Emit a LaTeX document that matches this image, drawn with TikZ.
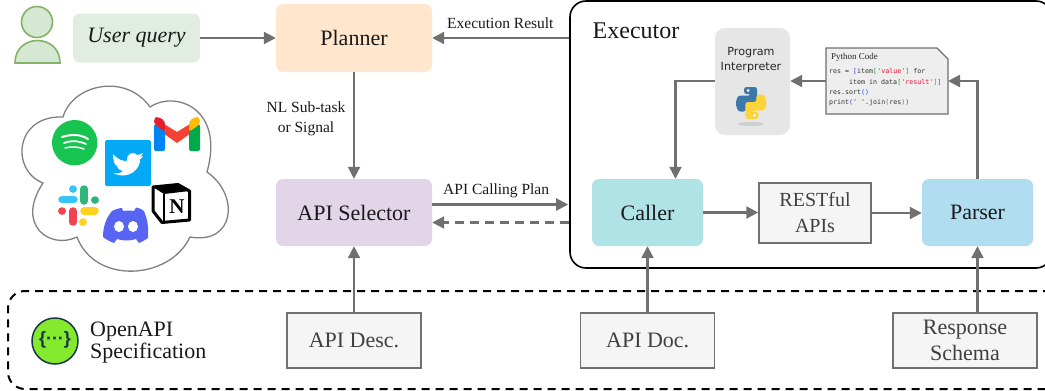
\documentclass[tikz,border=0pt]{standalone}
\usepackage{fontspec}
\setmainfont{Liberation Serif}
\newfontfamily\djsans{DejaVu Sans}
\newfontfamily\djmono{DejaVu Sans Mono}
\newfontfamily\lsans{Liberation Sans}
\usetikzlibrary{arrows.meta,shapes.geometric,calc}
\definecolor{linegray}{HTML}{707070}
\definecolor{kwblue}{HTML}{3344FF}
\definecolor{kwgreen}{HTML}{22AA22}
\definecolor{kwred}{HTML}{EE1133}
\definecolor{userf}{HTML}{D5E8D4}
\definecolor{userg}{HTML}{82B366}
\definecolor{queryf}{HTML}{E1EDE0}
\definecolor{plannerf}{HTML}{FFE6CC}
\definecolor{selectorf}{HTML}{E1D5E7}
\definecolor{callerf}{HTML}{B0E3E6}
\definecolor{parserf}{HTML}{B1DDF0}
\definecolor{interpf}{HTML}{E6E6E6}
\definecolor{codef}{HTML}{EEEEEE}
\definecolor{pyblue}{HTML}{3C78AA}
\definecolor{pyyellow}{HTML}{FFD43B}
\definecolor{spotify}{HTML}{16C44F}
\definecolor{twitter}{HTML}{03A9F4}
\definecolor{gred}{HTML}{F44336}
\definecolor{gdred}{HTML}{E5202E}
\definecolor{gblue}{HTML}{0085F7}
\definecolor{ggreen}{HTML}{00A94B}
\definecolor{gyellow}{HTML}{FFBC00}
\definecolor{slblue}{HTML}{36C5F8}
\definecolor{slgreen}{HTML}{2EB67D}
\definecolor{slred}{HTML}{F44250}
\definecolor{slyellow}{HTML}{FFD21F}
\definecolor{discord}{HTML}{5865F2}
\definecolor{swagf}{HTML}{85EA2D}
\definecolor{swags}{HTML}{173647}
\newcommand{\fs}[1]{\fontsize{#1}{#1}\selectfont}
\newcommand{\kb}[1]{\textcolor{kwblue}{#1}}
\newcommand{\kg}[1]{\textcolor{kwgreen}{#1}}
\newcommand{\kr}[1]{\textcolor{kwred}{#1}}
\tikzset{
  flowbox/.style={rounded corners=7pt,inner sep=0pt,align=center,text=black!90,font=\fs{22}},
  greybox/.style={draw=linegray,line width=1.5pt,fill=black!4,inner sep=0pt,align=center,font=\fs{22},text=black!75},
  flow/.style={draw=linegray,line width=2.2pt,-{Triangle[length=12pt,width=12pt]}},
  smalllabel/.style={font=\fs{15.5},text=black!90,inner sep=0pt,align=center},
  codeline/.style={font=\djmono\fs{6.65},text=black!80,inner sep=0pt,anchor=west},
  pill/.style={line width=7.5pt,line cap=round}
}
\begin{document}
\begin{tikzpicture}[x=1pt,y=-1pt]
\useasboundingbox (0,0) rectangle (1045,391);
\clip (0,0) rectangle (1045,391);
% dashed frame
\node[draw=black,line width=2pt,dash pattern=on 8pt off 6pt,rounded corners=17pt,minimum width=1060pt,minimum height=98pt,inner sep=0pt] (openapi) at (538,340) {};
% executor
\node[draw=black,line width=1.6pt,fill=white,rounded corners=16pt,minimum width=482pt,minimum height=267pt,inner sep=0pt] (executor) at (811,134.5) {};
\node[font=\fs{24},inner sep=0pt,text=black!90] (exlabel) at (636,31) {Executor};
% person
\draw[userg,line width=1.6pt,fill=userf] (37,22) circle[radius=15.5pt];
\draw[userg,line width=1.6pt,fill=userf] (15,63) .. controls (15,33) and (60,33) .. (60,63) -- cycle;
% boxes
\node[flowbox,fill=queryf,minimum width=127pt,minimum height=49pt,font=\itshape\fs{22}] (query) at (136.5,38) {User query};
\node[flowbox,fill=plannerf,minimum width=156pt,minimum height=68pt] (planner) at (354,38) {Planner};
\node[flowbox,fill=selectorf,minimum width=156pt,minimum height=67pt] (selector) at (354,212.5) {API Selector};
\node[flowbox,fill=callerf,minimum width=111pt,minimum height=67pt] (caller) at (647.5,212.5) {Caller};
\node[flowbox,fill=parserf,minimum width=111pt,minimum height=67pt] (parser) at (977.5,212.5) {Parser};
\node[greybox,minimum width=112pt,minimum height=60pt,font=\fs{20}] (rest) at (815,213) {RESTful\\[6pt]APIs};
\node[greybox,minimum width=134pt,minimum height=55pt] (desc) at (354,340.5) {API Desc.};
\node[greybox,minimum width=134pt,minimum height=55pt] (doc) at (647.7,340.5) {API Doc.};
\node[greybox,minimum width=144pt,minimum height=55pt] (schema) at (965,340.5) {Response\\[4pt]Schema};
% interpreter
\node[fill=interpf,rounded corners=10pt,minimum width=75pt,minimum height=107pt,inner sep=0pt] (interp) at (752.5,81.5) {};
\node[font=\djsans\fs{11.2},text=black!85,align=center,inner sep=0pt] (interplabel) at (751,60) {Program\\[3pt]Interpreter};
% python logo
\fill[black!25,opacity=.6] (751,124) ellipse[x radius=13pt,y radius=2pt];
\fill[pyblue,rounded corners=2.5pt] (744,87) -- (757,87) -- (757,104) -- (746,104) -- (746,111.5) -- (738,111.5) -- (735.5,103) -- (738,95.5) -- (751,95.5) -- (751,94) -- (744,94) -- cycle;
\begin{scope}[rotate around={180:(751.2,103)}]
\fill[pyyellow,rounded corners=2.5pt] (744,87) -- (757,87) -- (757,104) -- (746,104) -- (746,111.5) -- (738,111.5) -- (735.5,103) -- (738,95.5) -- (751,95.5) -- (751,94) -- (744,94) -- cycle;
\fill[white] (748,90.5) circle[radius=1.5pt];
\end{scope}
\fill[white] (748,90.5) circle[radius=1.5pt];
% code note
\draw[linegray,line width=1.3pt,fill=codef] (826,48) -- (937,48) -- (948,59) -- (948,114) -- (826,114) -- cycle;
\coordinate (codeE) at (948,81);
\coordinate (codeW) at (826,81);
\node[font=\fs{9},text=black!85,inner sep=0pt,anchor=west] (codetitle) at (831,57) {Python Code};
\node[codeline] (c1) at (829,71.5) {res = \kb{[}item\kg{[}\kr{'value'}\kg{]} for};
\node[codeline] (c2) at (849,82.5) {item in data\kg{[}\kr{'result'}\kg{]}\kb{]}};
\node[codeline] (c3) at (829,92) {res.sort\kb{()}};
\node[codeline] (c4) at (829,102.5) {print\kb{(}' '.join\kg{(}res\kg{)}\kb{)}};
% connectors
\draw[flow] (query.east) -- (query.east -| planner.west);
\draw[flow] (executor.west |- planner.east) -- (planner.east);
\draw[flow] (planner.south) -- (selector.north);
\draw[flow] ($(selector.east)+(0,-8)$) -- ($(selector.east -| executor.west)+(-1,-8)$);
\draw[flow,dash pattern=on 9pt off 6pt] ($(selector.east -| executor.west)+(0,10)$) -- ($(selector.east)+(0,10)$);
\draw[flow] (caller.east) -- (caller.east -| rest.west);
\draw[flow] (rest.east) -- (rest.east -| parser.west);
\draw[flow] (parser.north) |- (codeE);
\draw[flow] (codeW) -- (codeW -| interp.east);
\draw[flow] (codeW -| interp.west) -| ($(caller.north)+(28,0)$);
\draw[flow] (desc.north -| selector.south) -- (selector.south);
\draw[flow] (doc.north -| caller.south) -- (caller.south);
\draw[flow] (schema.north -| parser.south) -- (parser.south);
% labels
\node[smalllabel,anchor=west] (l1) at (447,23.5) {Execution Result};
\node[smalllabel] (l2) at (306,119) {NL Sub-task\\[4pt]or Signal};
\node[smalllabel,anchor=west] (l3) at (443,190.5) {API Calling Plan};
% cloud
\draw[black!50,line width=1.3pt,fill=white] (63,117) .. controls (72,85) and (125,72) .. (150,107) .. controls (175,90) and (225,108) .. (207,172) .. controls (240,195) and (235,245) .. (190,237) .. controls (170,280) and (95,285) .. (77,237) .. controls (50,250) and (15,225) .. (43,183) .. controls (10,170) and (15,115) .. (63,117) -- cycle;
% spotify
\fill[spotify] (74.7,142.7) circle[radius=22.7pt];
\draw[white,line width=2pt,line cap=round] (62,137) .. controls (72,134) and (80,134) .. (88,139);
\draw[white,line width=1.8pt,line cap=round] (64,143) .. controls (72,140) and (80,141) .. (86,144);
\draw[white,line width=1.5pt,line cap=round] (65,148) .. controls (72,146) and (79,147) .. (84,149);
% gmail
\fill[gred] (156,119) -- (177,132) -- (198,119) -- (198,128) -- (177,143) -- (156,128) -- cycle;
\fill[gblue,rounded corners=2pt] (154,124) -- (165,130) -- (165,151) -- (154,151) -- cycle;
\fill[ggreen,rounded corners=2pt] (200,124) -- (189,130) -- (189,151) -- (200,151) -- cycle;
\fill[gdred,rounded corners=3pt] (154,118) -- (158,116.5) -- (165,121) -- (165,132) -- (154,124) -- cycle;
\fill[gyellow,rounded corners=3pt] (200,118) -- (196,116.5) -- (189,121) -- (189,132) -- (200,124) -- cycle;
% twitter
\fill[twitter,rounded corners=1.5pt] (105,140) rectangle (151,186);
\fill[white] (113,154) .. controls (118,160) and (123,161) .. (127,161) .. controls (126,155) and (132,150) .. (137,155) .. controls (139,155) and (141,154) .. (143,153) .. controls (142,155) and (141,156) .. (140,157) .. controls (141,157) and (142,157) .. (143,156) .. controls (142,158) and (141,159) .. (140,159) .. controls (141,168) and (129,181) .. (113,173) .. controls (117,174) and (121,173) .. (123,171) .. controls (119,170) and (117,168) .. (117,166) .. controls (115,165) and (113,162) .. (113,154) -- cycle;
% slack
\draw[pill,slblue] (62,199.5) -- (74,199.5);
\draw[pill,slblue] (73,189) -- (73,189.1);
\draw[pill,slgreen] (84,189) -- (84,201);
\draw[pill,slgreen] (95,200) -- (95,200.1);
\draw[pill,slred] (73,211) -- (73,222);
\draw[pill,slred] (62,211) -- (62,211.1);
\draw[pill,slyellow] (84,211) -- (95,211);
\draw[pill,slyellow] (83,222) -- (83,222.1);
% discord
\fill[discord] (112,211) .. controls (116,209) and (120,208) .. (122,208) -- (123,211) .. controls (127,210.5) and (131,210.5) .. (134,211) -- (136,207.5) .. controls (139,208) and (142,209) .. (144,211) .. controls (147,218) and (149,227) .. (148,238) .. controls (145,240) and (142,242) .. (139,243) -- (136,239) .. controls (130,241) and (123,241) .. (117,239) -- (114,243) .. controls (111,242) and (107,240) .. (103,237) .. controls (103,227) and (106,218) .. (112,211) -- cycle;
\fill[white] (119,226.5) ellipse[x radius=5pt,y radius=5.5pt];
\fill[white] (133,226.5) ellipse[x radius=5pt,y radius=5.5pt];
% notion
\draw[black,line width=3pt,line join=round,fill=white] (153,187) -- (178,184.5) -- (189.5,191) -- (189.5,220) -- (162,222.5) -- (153,211) -- cycle;
\fill[black] (153,187) -- (164,194) -- (189.5,191) -- (178,184.5) -- cycle;
\draw[black,line width=2pt] (164,194) -- (164,222);
\node[font=\bfseries\fs{21},inner sep=0pt] (notionN) at (177,207) {N};
% swagger
\draw[swags,line width=1.5pt,fill=swagf] (55,341) circle[radius=23pt];
\node[font=\lsans\bfseries\fs{18},text=swags,inner sep=0pt] (swag) at (55,340) {\{···\}};
\node[font=\fs{22},text=black!90,align=left,inner sep=0pt,anchor=west] (spec) at (90,343) {OpenAPI\\[0pt]Specification};
\end{tikzpicture}
\end{document}
